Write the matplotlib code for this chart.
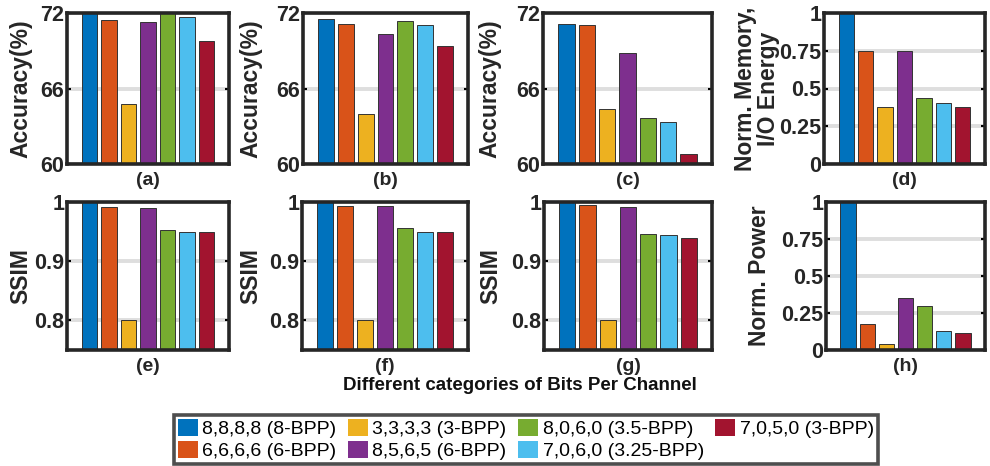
import matplotlib
matplotlib.use("Agg")
import matplotlib.pyplot as plt
from matplotlib.patches import Patch
from matplotlib.ticker import FuncFormatter

plt.rcParams['font.family'] = ['Liberation Sans', 'DejaVu Sans']

categories = ["8,8,8,8 (8-BPP)", "6,6,6,6 (6-BPP)", "3,3,3,3 (3-BPP)", "8,5,6,5 (6-BPP)",
              "8,0,6,0 (3.5-BPP)", "7,0,6,0 (3.25-BPP)", "7,0,5,0 (3-BPP)"]
colors = ["#0072BD", "#D95319", "#EDB120", "#7E2F8E", "#77AC30", "#4DBEEE", "#A2142F"]

acc_a = [72.3, 71.47, 64.78, 71.26, 72.3, 71.68, 69.75]
acc_b = [71.55, 71.15, 64.0, 70.3, 71.39, 71.02, 69.4]
acc_c = [71.15, 71.07, 64.38, 68.83, 63.69, 63.37, 60.76]
mem_d = [1.0, 0.75, 0.375, 0.75, 0.4375, 0.40625, 0.375]
ssim_e = [1.0, 0.9915, 0.8, 0.99, 0.953, 0.949, 0.949]
ssim_f = [1.0, 0.994, 0.8, 0.993, 0.956, 0.95, 0.95]
ssim_g = [1.0, 0.995, 0.8, 0.992, 0.946, 0.945, 0.94]
power_h = [1.0, 0.176, 0.043, 0.348, 0.294, 0.131, 0.113]

acc_ticks = [60, 66, 72]
norm_ticks = [0, 0.25, 0.5, 0.75, 1]
ssim_ticks = [0.8, 0.9, 1]

W, H = 990, 466
fig = plt.figure(figsize=(W / 100, H / 100), dpi=100)

def rect(l, r, t, b):
    return [l / W, 1 - b / H, (r - l) / W, (b - t) / H]

panels = [
    ((67, 229, 13, 164), 21, acc_a, (60, 72), acc_ticks, "Accuracy(%)", "(a)"),
    ((303, 468, 13, 164), 251, acc_b, (60, 72), acc_ticks, "Accuracy(%)", "(b)"),
    ((543, 712, 13, 164), 490, acc_c, (60, 72), acc_ticks, "Accuracy(%)", "(c)"),
    ((824, 985, 13, 164), 757, mem_d, (0, 1), norm_ticks, "Norm. Memory,\nI/O Energy", "(d)"),
    ((67, 229, 202, 350), 21, ssim_e, (0.75, 1), ssim_ticks, "SSIM", "(e)"),
    ((302, 468, 202, 350), 251, ssim_f, (0.75, 1), ssim_ticks, "SSIM", "(f)"),
    ((544, 712, 202, 350), 491, ssim_g, (0.75, 1), ssim_ticks, "SSIM", "(g)"),
    ((826, 985, 202, 350), 760, power_h, (0, 1), norm_ticks, "Norm. Power", "(h)"),
]

fmt = FuncFormatter(lambda v, p: ("%g" % v))
x = list(range(len(categories)))
for (l, r, t, b), labx, vals, ylim, ticks, ylab, xlab in panels:
    ax = fig.add_axes(rect(l, r, t, b))
    ax.set_axisbelow(True)
    ax.yaxis.grid(True, color="#dedede", linewidth=2.8)
    bottom = ylim[0]
    ax.bar(x, [v - bottom for v in vals], bottom=bottom, width=0.8, color=colors,
           edgecolor="#333333", linewidth=0.7)
    ax.set_ylim(*ylim)
    ax.set_xlim(-1.15, 7.15)
    ax.set_yticks(ticks)
    ax.yaxis.set_major_formatter(fmt)
    ax.set_xticks([])
    ax.tick_params(axis='y', direction='in', right=True, length=3, width=1.5,
                   labelsize=15.5, pad=2)
    for lab in ax.get_yticklabels():
        lab.set_fontweight('bold')
        lab.set_color('#262626')
    for s in ax.spines.values():
        s.set_linewidth(2.6)
        s.set_color('#262626')
    ax.set_ylabel(ylab, fontsize=16.5, fontweight='bold', color='#262626',
                  linespacing=0.95, va='center', ha='center')
    ax.yaxis.set_label_coords((labx - l) / (r - l), 0.5)
    ax.set_xlabel(xlab, fontsize=14, fontweight='bold', color='#262626', labelpad=6)

fig.text(520 / W, 1 - 386 / H, "Different categories of Bits Per Channel", ha='center',
         va='center', fontsize=13.5, fontweight='bold', color='#111111')

handles = [Patch(facecolor=c, edgecolor='none') for c in colors]
leg = fig.legend(handles, categories, loc='upper center', bbox_to_anchor=(526 / W, 1 - 405 / H),
                 ncol=4, frameon=True, fancybox=False, handlelength=1.0, handleheight=1.0,
                 handletextpad=0.25, columnspacing=0.6, labelspacing=0.15, borderpad=0.2,
                 prop={'family': ['Liberation Sans'], 'size': 14})
leg.get_frame().set_edgecolor('#222222')
leg.get_frame().set_linewidth(2.6)

fig.savefig("out.png", dpi=100)
